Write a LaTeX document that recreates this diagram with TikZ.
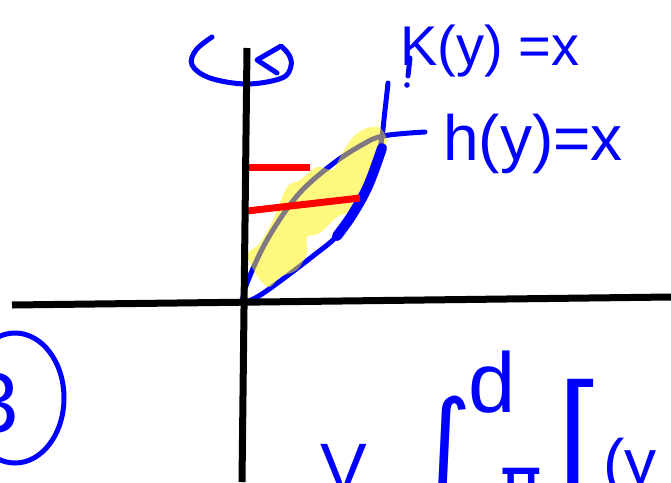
\documentclass[tikz,border=0pt]{standalone}
\usepackage{fontspec}
\setmainfont{Liberation Sans}
\newfontfamily\djv{DejaVu Sans}
\begin{document}
\begin{tikzpicture}[x=1pt,y=-1pt,
  ink/.style={draw=blue, line width=5pt, line cap=round, line join=round},
  thickink/.style={draw=blue, line width=10pt, line cap=round, line join=round},
  axisline/.style={draw=black, line width=7pt},
  redline/.style={draw=red, line width=7pt},
  hl/.style={fill=yellow, fill opacity=0.5},
  lbl/.style={text=blue, inner sep=0pt, anchor=base west}]
\useasboundingbox (0,0) rectangle (671,482);
\clip (0,0) rectangle (671,482);
\coordinate (O) at (242,303);
% rotation arrow
\draw[ink] plot[smooth, tension=0.6] coordinates {(212,37) (196,50) (192,65) (210,78) (247,84) (282,78) (291,66) (289,55) (281,46)} -- (257,60) -- (277,73);
% circled 3
\draw[ink] (15,398) ellipse [x radius=49, y radius=65];
\node[lbl, font=\fontsize{85}{85}\selectfont] (three) at (-29,432) {3};
% curves
\draw[ink] plot[smooth, tension=0.6] coordinates {(O) (262,294) (313,256) (340,232) (367,188) (380,148) (385,110) (388,83)};
\draw[ink] plot[smooth, tension=0.6] coordinates {(O) (247,283) (267,240) (297,196) (330,166) (360,146) (383,136) (425,132)};
% highlight
\fill[hl] plot[smooth cycle, tension=0.5] coordinates {(248,253) (260,243) (273,220) (287,187) (300,180) (317,167) (333,170) (340,157) (353,137) (367,128) (380,128) (387,140) (380,157) (367,187) (353,210) (337,217) (320,233) (307,237) (307,253) (297,270) (280,277) (270,287) (260,280) (250,263)};
\draw[thickink] plot[smooth, tension=0.6] coordinates {(337,236) (352,215) (368,186) (382,148)};
% red strips
\draw[redline] (247,167) -- (310,167);
\draw[redline] (247,211) -- (360,198);
% tick mark
\draw[ink] (410,58) -- (408,76);
\fill[blue] (407,85) circle (2.8);
% axes
\draw[axisline] (12,305) -- (671,297);
\draw[axisline] (247,48) -- (242,482);
% labels
\node[lbl, font=\fontsize{56}{56}\selectfont] (K) at (400,65) {K(y) =x};
\node[lbl, font=\fontsize{64}{64}\selectfont] (h) at (443,160) {h(y)=x};
% bottom formula
\node[lbl, font=\fontsize{70}{70}\selectfont] (V) at (320,492) {V};
\node[lbl, font=\djv\fontsize{105}{105}\selectfont] (int) at (417,475) {∫};
\node[lbl, font=\fontsize{85}{85}\selectfont] (d) at (468,412) {d};
\node[lbl, font=\djv\fontsize{70}{70}\selectfont] (pi) at (500,506) {π};
\node[lbl, font=\fontsize{130}{130}\selectfont] (br) at (558,473) {[};
\node[lbl, font=\fontsize{64}{64}\selectfont] (hy) at (603,484) {(y};
\end{tikzpicture}
\end{document}
